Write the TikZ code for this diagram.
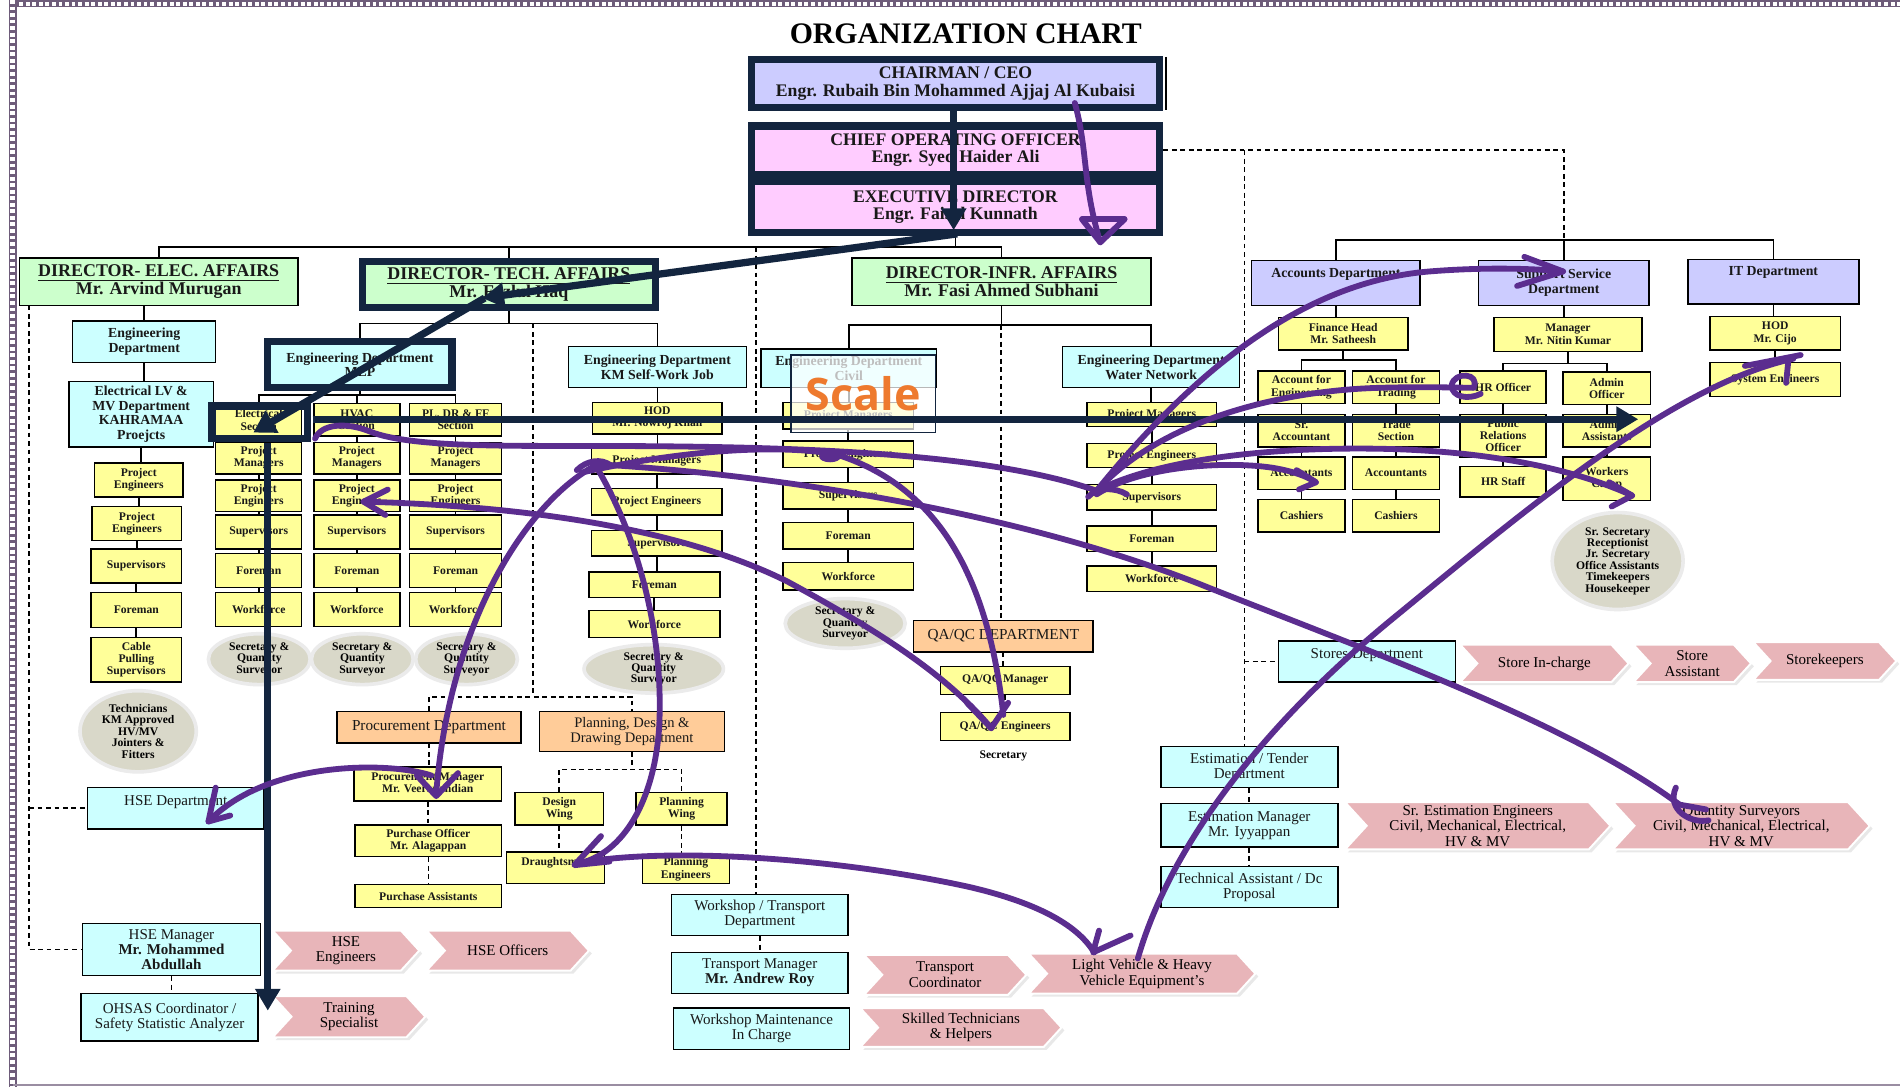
\documentclass[tikz,border=0pt]{standalone}
\usepackage{fontspec}
\setmainfont{Liberation Serif}
\newfontfamily\scalefont{Open Sans}
\usetikzlibrary{shapes.geometric,shapes.symbols,arrows.meta,shadows}
\definecolor{yel}{HTML}{FFFF99}
\definecolor{cyn}{HTML}{CCFFFF}
\definecolor{grn}{HTML}{CCFFCC}
\definecolor{lav}{HTML}{CCCCFF}
\definecolor{pnk}{HTML}{FFCCFF}
\definecolor{org}{HTML}{FFCC99}
\definecolor{elc}{HTML}{D9D8C9}
\definecolor{chv}{HTML}{E8B5B9}
\definecolor{navy}{HTML}{13253F}
\definecolor{pur}{HTML}{5B2D8F}
\definecolor{scl}{HTML}{EE7A2E}
\definecolor{brd}{HTML}{6E5C7A}
\newcommand\bx[7][]{\node[#1, minimum width={(#5-#3)*0.5pt}, minimum height={(#6-#4)*0.5pt}] (#2) at ({(#3+#5)/2},{(#4+#6)/2}) {#7};}
\newcommand\vl[2]{\draw[ln] (#1.south) -- (#1.south |- #2.north);}
\newcommand\vd[2]{\draw[dl] (#1.south) -- (#1.south |- #2.north);}
\tikzset{
 bb/.style={draw=black, line width=0.6pt, inner sep=0.3pt, align=center, text=black!90},
 yb/.style={bb, fill=yel, font=\fontsize{4.8}{5.1}\selectfont\bfseries},
 cb/.style={bb, fill=cyn, font=\fontsize{5.7}{6}\selectfont\bfseries},
 cr/.style={bb, fill=cyn, font=\fontsize{6.2}{6.2}\selectfont},
 gb/.style={bb, fill=grn, font=\fontsize{7.4}{7.3}\selectfont\bfseries},
 lb/.style={bb, fill=lav, font=\fontsize{5.7}{6}\selectfont\bfseries},
 ob/.style={bb, fill=org, font=\fontsize{6.3}{6.6}\selectfont},
 tp/.style={bb, fr, font=\fontsize{7.3}{7.2}\selectfont\bfseries},
 el/.style={ellipse, fill=elc, draw=black!8, line width=1.5pt, inner sep=0pt, align=center, font=\fontsize{4.8}{4.7}\selectfont\bfseries},
 chev/.style={signal, signal from=west, signal to=east, signal pointer angle=95, fill=chv, draw=white, line width=0.8pt, inner sep=0pt, align=center, font=\fontsize{6.2}{6.4}\selectfont, drop shadow={shadow xshift=1.2pt, shadow yshift=-1.2pt, opacity=0.18}},
 fr/.style={draw=navy, line width=3pt},
 ln/.style={line width=0.7pt},
 dl/.style={line width=0.7pt, dash pattern=on 2pt off 1.5pt},
 nav/.style={draw=navy, line width=3pt, -{Triangle[length=9pt,width=10pt]}},
 pu/.style={draw=pur, line width=2.4pt, line cap=round, line join=round},
}
\begin{document}
\begin{tikzpicture}[x=0.5pt,y=-0.5pt]
\useasboundingbox (0,0) rectangle (1568,897);
\fill[white] (0,0) rectangle (1568,897);
% border
\draw[brd, line width=2.8pt] (10.5,3) -- (1568,3);
\draw[white, line width=1.6pt, dash pattern=on 1.6pt off 1.1pt] (10.5,3) -- (1568,3);
\draw[brd, line width=3.4pt] (10.5,0) -- (10.5,897);
\draw[white, line width=2pt, dash pattern=on 1.6pt off 1.1pt] (10.5,0) -- (10.5,897);
\draw[brd!70, line width=0.8pt] (10.5,895.5) -- (1568,895.5);

\node[font=\fontsize{12.3}{14}\selectfont\bfseries] (title) at (797,28) {ORGANIZATION CHART};

% top
\bx[tp, fill=lav]{chair}{620}{49}{957}{89}{CHAIRMAN / CEO\\Engr. Rubaih Bin Mohammed Ajjaj Al Kubaisi}
\draw[line width=0.8pt] (962,47) -- (962,91);
\bx[tp, fill=pnk]{coo}{620}{104}{957}{144}{CHIEF OPERATING OFFICER\\Engr. Syed Haider Ali}
\bx[tp, fill=pnk]{ed}{620}{150}{957}{192}{EXECUTIVE DIRECTOR\\Engr. Faisal Kunnath}

% directors
\bx[gb]{dElec}{16}{213}{246}{252}{\underline{DIRECTOR- ELEC. AFFAIRS}\\Mr. Arvind Murugan}
\bx[gb, fr]{dTech}{299}{216}{541}{254}{\underline{DIRECTOR- TECH. AFFAIRS}\\Mr. Fazlul Haq}
\bx[gb]{dInf}{703}{213}{950}{252}{\underline{DIRECTOR-INFR. AFFAIRS}\\Mr. Fasi Ahmed Subhani}

% elec column
\bx[cb]{eng1}{60}{265}{178}{299}{Engineering\\Department}
\bx[cb]{elv}{57}{315}{176}{369}{Electrical LV \&\\MV Department\\KAHRAMAA\\Proejcts}
\bx[yb]{epa}{78}{382}{151}{410}{Project\\Engineers}
\bx[yb]{epb}{76}{418}{150}{446}{Project\\Engineers}
\bx[yb]{esu}{75}{453}{150}{481}{Supervisors}
\bx[yb]{efo}{75}{489}{150}{518}{Foreman}
\bx[yb]{eca}{75}{526}{150}{563}{Cable\\Pulling\\Supervisors}
\bx[el]{etec}{66}{570}{162}{637}{Technicians\\KM Approved\\HV/MV\\Jointers \&\\Fitters}

% HSE
\bx[cr, text depth=6pt]{hsed}{72}{650}{218}{684}{HSE Department}
\bx[cr]{hsem}{68}{762}{215}{805}{HSE Manager\\\textbf{Mr. Mohammed}\\\textbf{Abdullah}}
\bx[cr]{ohs}{67}{820}{213}{859}{OHSAS Coordinator /\\Safety Statistic Analyzer}
\bx[chev]{hseE}{225}{768}{346}{801}{HSE\\Engineers}
\bx[chev]{hseO}{352}{768}{486}{801}{HSE Officers}
\bx[chev]{train}{225}{822}{351}{856}{Training\\Specialist}

% MEP
\bx[cb, fr]{mep}{221}{282}{373}{320}{Engineering Department\\MEP}
\bx[yb]{xs}{178}{333}{249}{360}{Electrical\\Section}
\bx[yb]{xm}{178}{365}{249}{391}{Project\\Managers}
\bx[yb]{xe}{178}{396}{249}{422}{Project\\Engineers}
\bx[yb]{xu}{178}{425}{249}{453}{Supervisors}
\bx[yb]{xf}{178}{457}{249}{485}{Foreman}
\bx[yb]{xw}{178}{489}{249}{517}{Workforce}
\bx[el]{xq}{172}{523}{256}{565}{Secretary \&\\Quantity\\Surveyor}
\bx[yb]{ys}{259}{333}{330}{360}{HVAC\\Section}
\bx[yb]{ym}{259}{365}{330}{391}{Project\\Managers}
\bx[yb]{ye}{259}{396}{330}{422}{Project\\Engineers}
\bx[yb]{yu}{259}{425}{330}{453}{Supervisors}
\bx[yb]{yf}{259}{457}{330}{485}{Foreman}
\bx[yb]{yw}{259}{489}{330}{517}{Workforce}
\bx[el]{yq}{257}{523}{341}{565}{Secretary \&\\Quantity\\Surveyor}
\bx[yb]{zs}{338}{333}{414}{360}{PL, DR \& FF\\Section}
\bx[yb]{zm}{338}{365}{414}{391}{Project\\Managers}
\bx[yb]{ze}{338}{396}{414}{422}{Project\\Engineers}
\bx[yb]{zu}{338}{425}{414}{453}{Supervisors}
\bx[yb]{zf}{338}{457}{414}{485}{Foreman}
\bx[yb]{zw}{338}{489}{414}{517}{Workforce}
\bx[el]{zq}{343}{523}{427}{565}{Secretary \&\\Quantity\\Surveyor}

% KM
\bx[cb]{km}{469}{286}{616}{320}{Engineering Department\\KM Self-Work Job}
\bx[yb]{hod}{489}{332}{596}{358}{HOD\\Mr. Nowroj Khan}
\bx[yb]{kpm}{488}{370}{596}{391}{Project Managers}
\bx[yb]{kpe}{488}{403}{596}{425}{Project Engineers}
\bx[yb]{ksu}{488}{438}{596}{459}{Supervisors}
\bx[yb]{kfo}{486}{472}{594}{493}{Foreman}
\bx[yb]{kwf}{486}{504}{594}{526}{Workforce}
\bx[el]{kq}{482}{532}{597}{572}{Secretary \&\\Quantity\\Surveyor}

% procurement / planning
\bx[ob]{proc}{278}{587}{430}{613}{Procurement Department}
\bx[ob, font=\fontsize{6}{6.4}\selectfont]{plan}{445}{587}{598}{620}{Planning, Design \&\\Drawing Department}
\bx[yb]{pmg}{292}{633}{414}{661}{Procurement Manager\\Mr. Veerapandian}
\bx[yb]{pof}{293}{681}{414}{707}{Purchase Officer\\Mr. Alagappan}
\bx[yb]{pas}{293}{730}{414}{749}{Purchase Assistants}
\bx[yb]{dwg}{425}{654}{498}{681}{Design\\Wing}
\bx[yb]{pwg}{525}{654}{600}{681}{Planning\\Wing}
\bx[yb, text depth=5pt]{drf}{418}{703}{499}{729}{Draughtsman}
\bx[yb]{pen}{530}{706}{602}{729}{Planning\\Engineers}

% workshop
\bx[cr]{ws}{554}{738}{700}{772}{Workshop / Transport\\Department}
\bx[cr]{tm}{554}{786}{700}{820}{Transport Manager\\\textbf{Mr. Andrew Roy}}
\bx[cr]{wm}{556}{832}{701}{866}{Workshop Maintenance\\In Charge}
\bx[chev]{tco}{713}{788}{847}{821}{Transport\\Coordinator}
\bx[chev]{lvh}{849}{787}{1036}{820}{Light Vehicle \& Heavy\\Vehicle Equipment’s}
\bx[chev]{skt}{710}{832}{876}{864}{Skilled Technicians\\\& Helpers}

% infra civil
\bx[cb]{civil}{628}{288}{773}{320}{Engineering Department\\Civil}
\bx[yb]{cpm}{646}{332}{754}{354}{Project Managers}
\bx[yb]{cpe}{646}{364}{754}{386}{Project Engineers}
\bx[yb]{csu}{646}{398}{754}{420}{Supervisors}
\bx[yb]{cfo}{646}{431}{754}{453}{Foreman}
\bx[yb]{cwf}{646}{464}{754}{487}{Workforce}
\bx[el]{cq}{648}{494}{747}{535}{Secretary \&\\Quantity\\Surveyor}
\bx[ob]{qa}{754}{512}{902}{538}{QA/QC DEPARTMENT}
\bx[yb]{qam}{776}{550}{883}{573}{QA/QC Manager}
\bx[yb]{qae}{776}{588}{883}{611}{QA/QC Engineers}
\node[font=\fontsize{4.8}{5}\selectfont\bfseries] (secr) at (828,624) {Secretary};
% water
\bx[cb]{water}{877}{286}{1023}{320}{Engineering Department\\Water Network}
\bx[yb]{wpm}{897}{332}{1004}{352}{Project Managers}
\bx[yb]{wpe}{897}{366}{1004}{386}{Project Engineers}
\bx[yb]{wsu}{897}{400}{1004}{421}{Supervisors}
\bx[yb]{wfo}{897}{434}{1004}{455}{Foreman}
\bx[yb]{wwf}{897}{467}{1004}{488}{Workforce}

% right
\bx[lb, text depth=8.5pt]{acc}{1033}{215}{1172}{252}{Accounts Department}
\bx[lb]{svc}{1220}{215}{1361}{252}{Support Service\\Department}
\bx[lb, text depth=8.5pt]{itd}{1393}{214}{1534}{251}{IT Department}
\bx[yb]{fh}{1055}{262}{1162}{289}{Finance Head\\Mr. Satheesh}
\bx[yb]{ae}{1038}{306}{1110}{333}{Account for\\Engineering}
\bx[yb]{at}{1116}{306}{1188}{333}{Account for\\Trading}
\bx[yb]{sra}{1038}{342}{1110}{369}{Sr.\\Accountant}
\bx[yb]{tsn}{1116}{342}{1188}{369}{Trade\\Section}
\bx[yb]{acl}{1038}{377}{1110}{404}{Accountants}
\bx[yb]{acr}{1116}{377}{1188}{404}{Accountants}
\bx[yb]{cal}{1038}{412}{1110}{439}{Cashiers}
\bx[yb]{car}{1116}{412}{1188}{439}{Cashiers}
\bx[yb]{mgr}{1233}{262}{1355}{290}{Manager\\Mr. Nitin Kumar}
\bx[yb]{hro}{1205}{306}{1276}{333}{HR Officer}
\bx[yb]{ado}{1290}{307}{1362}{334}{Admin\\Officer}
\bx[yb]{pro}{1205}{342}{1276}{377}{Public\\Relations\\Officer}
\bx[yb]{ada}{1290}{342}{1362}{369}{Admin\\Assistants}
\bx[yb]{hrs}{1205}{385}{1276}{410}{HR Staff}
\bx[yb]{wcp}{1290}{377}{1362}{413}{Workers\\Camp}
\bx[el]{sel}{1281}{423}{1389}{503}{Sr. Secretary\\Receptionist\\Jr. Secretary\\Office Assistants\\Timekeepers\\Housekeeper}
\bx[yb]{hod2}{1411}{261}{1519}{289}{HOD\\Mr. Cijo}
\bx[yb]{sys}{1411}{299}{1519}{327}{System Engineers}

\bx[cr, text depth=7pt]{stores}{1055}{529}{1201}{563}{Stores Department}
\bx[chev]{sic}{1205}{532}{1344}{563}{Store In-charge}
\bx[chev]{sas}{1348}{532}{1445}{563}{Store\\Assistant}
\bx[chev]{skp}{1447}{530}{1565}{561}{Storekeepers}
\bx[cr]{est}{958}{616}{1104}{650}{Estimation / Tender\\Department}
\bx[cr]{estm}{958}{663}{1104}{699}{Estimation Manager\\Mr. Iyyappan}
\bx[cr]{tas}{958}{715}{1104}{749}{Technical Assistant / Dc\\Proposal}
\bx[chev]{see}{1110}{662}{1329}{701}{Sr. Estimation Engineers\\Civil, Mechanical, Electrical,\\HV \& MV}
\bx[chev]{qsv}{1331}{662}{1543}{701}{Quantity Surveyors\\Civil, Mechanical, Electrical,\\HV \& MV}

% ---------- connectors
\coordinate (hTop) at (0,204);
\draw[ln] (ed.south) -- (ed.south |- hTop);
\draw[ln] (dElec.north) |- (dInf.north |- hTop) -- (dInf.north);
\draw[ln] (dTech.north) -- (dTech.north |- hTop);
% elec
\draw[ln] (eng1.north) -- (eng1.north |- dElec.south);
\vl{eng1}{elv} \vl{elv}{epa} \vl{epa}{epb} \vl{epb}{esu} \vl{esu}{efo} \vl{efo}{eca}
\coordinate (dl1) at (24,252);
\draw[dl] (dl1) |- (hsem.west);
\draw[dl] (dl1 |- hsed.west) -- (hsed.west);
\vd{hsem}{ohs}
% tech
\coordinate (hT) at (0,267);
\draw[ln] (dTech.south) -- (dTech.south |- hT);
\draw[ln] (mep.north) |- (km.north |- hT) -- (km.north);
\coordinate (hM) at (0,326);
\draw[ln] (mep.south) -- (mep.south |- hM);
\draw[ln] (xs.north) |- (zs.north |- hM) -- (zs.north);
\draw[ln] (ys.north) -- (ys.north |- hM);
\vl{xs}{xm} \vl{xm}{xe} \vl{xe}{xu} \vl{xu}{xf} \vl{xf}{xw}
\vl{ys}{ym} \vl{ym}{ye} \vl{ye}{yu} \vl{yu}{yf} \vl{yf}{yw}
\vl{zs}{zm} \vl{zm}{ze} \vl{ze}{zu} \vl{zu}{zf} \vl{zf}{zw}
\vl{km}{hod} \vl{hod}{kpm} \vl{kpm}{kpe} \vl{kpe}{ksu} \vl{ksu}{kfo} \vl{kfo}{kwf}
\coordinate (pdT) at (440,267);
\coordinate (pdB) at (440,575);
\draw[dl] (pdT) -- (pdB);
\draw[dl] (proc.north) |- (plan.north |- pdB) -- (plan.north);
\vd{proc}{pmg} \vd{pmg}{pof} \vd{pof}{pas}
\coordinate (hP) at (0,635);
\draw[dl] (plan.south) -- (plan.south |- hP);
\draw[dl] (dwg.north) |- (pwg.north |- hP) -- (pwg.north);
\vd{dwg}{drf} \vd{pwg}{pen}
% center
\coordinate (cT) at (624,204);
\draw[dl] (cT) -- (cT |- ws.north);
\vd{ws}{tm}
% infra
\coordinate (hI) at (0,268);
\draw[ln] (dInf.south) -- (dInf.south |- hI);
\draw[ln] (civil.north) |- (water.north |- hI) -- (water.north);
\vl{civil}{cpm} \vl{cpm}{cpe} \vl{cpe}{csu} \vl{csu}{cfo} \vl{cfo}{cwf}
\vl{water}{wpm} \vl{wpm}{wpe} \vl{wpe}{wsu} \vl{wsu}{wfo} \vl{wfo}{wwf}
\coordinate (iD) at (826,268);
\draw[dl] (iD) -- (iD |- qa.north);
\vd{qa}{qam} \vd{qam}{qae}
% right
\coordinate (hR) at (0,198);
\draw[dl] (coo.east) -| (svc.north |- hR);
\draw[ln] (acc.north) |- (itd.north |- hR) -- (itd.north);
\draw[ln] (svc.north) -- (svc.north |- hR);
\coordinate (rd) at (1027,124);
\draw[dl] (rd) -- (rd |- est.north);
\draw[dl] (rd |- stores.west) -- (stores.west);
\vl{acc}{fh}
\coordinate (hA) at (0,297);
\draw[ln] (fh.south) -- (fh.south |- hA);
\draw[ln] (ae.north) |- (at.north |- hA) -- (at.north);
\vl{ae}{sra} \vl{sra}{acl} \vl{acl}{cal} \vl{at}{tsn} \vl{tsn}{acr} \vl{acr}{car}
\vl{svc}{mgr}
\coordinate (hS) at (0,300);
\draw[ln] (mgr.south) -- (mgr.south |- hS);
\draw[ln] (hro.north) |- (ado.north |- hS) -- (ado.north);
\vl{hro}{pro} \vl{pro}{hrs} \vl{ado}{ada} \vl{ada}{wcp}
\vl{itd}{hod2} \vl{hod2}{sys}
\vd{est}{estm} \vd{estm}{tas}

% section frame
\draw[fr] (175,335) rectangle (254,362);

% scale box
\node[draw=navy, line width=0.7pt, fill=white, fill opacity=0.72, text opacity=1, text=scl,
  minimum width=59.5pt, minimum height=32pt, font=\scalefont\bfseries\fontsize{18.5}{20}\selectfont] (scale) at (712.5,325) {Scale};

% navy arrows
\draw[nav] (787,86) -- (787,190);
\draw[nav] (790,193) -- (398,246);
\draw[nav] (400,246) -- (209,357);
\draw[nav] (221,366) -- (221,834);
\draw[nav] (258,346) -- (1352,346);

% purple strokes
\draw[pu] (887,85) .. controls (898,125) and (893,150) .. (908,200);
\draw[pu] (893,181) -- (928,181);
\draw[pu] (893,181) -- (908,200) -- (928,181);
\draw[pu] (260,362) .. controls (265,350) and (285,348) .. (305,356) .. controls (330,366) and (380,368) .. (450,368) .. controls (600,368) and (800,368) .. (905,405);
\draw[pu] (480,390) .. controls (560,372) and (640,366) .. (690,375);
\draw[pu] (690,375) .. controls (770,400) and (815,470) .. (828,590);
\fill[pur] (685,377) ellipse [x radius=9, y radius=4.5];
\draw[pu] (300,414) .. controls (450,418) and (570,440) .. (650,480) .. controls (720,518) and (780,555) .. (818,601);
\draw[pu] (320,404) -- (300,414) -- (318,425);
\draw[pu] (798,580) -- (818,601) -- (832,580);
\draw[pu] (488,386) .. controls (430,420) and (370,520) .. (360,655);
\draw[pu] (344,640) -- (360,657) -- (378,638);
\draw[pu] (356,640) .. controls (320,628) and (220,628) .. (172,678);
\draw[pu] (178,650) -- (172,678) -- (190,673);
\draw[pu] (492,385) .. controls (525,440) and (548,520) .. (544,600) .. controls (540,660) and (515,705) .. (476,713);
\draw[pu] (496,690) -- (474,714) -- (503,711);
\draw[pu] (478,712) .. controls (560,698) and (700,710) .. (800,732) .. controls (860,746) and (890,765) .. (903,786);
\draw[pu] (907,768) -- (902,786) -- (933,772);
\draw[pu] (476,388) .. controls (484,380) and (496,378) .. (504,384);
\draw[pu] (490,383) .. controls (650,392) and (850,425) .. (1000,486) .. controls (1150,545) and (1300,600) .. (1386,664);
\draw[pu] (1383,650) .. controls (1375,668) and (1395,680) .. (1410,677);
\draw[pu] (1386,664) -- (1408,668);
\draw[pu] (898,410) .. controls (905,402) and (920,402) .. (930,408);
\draw[pu] (905,405) .. controls (990,300) and (1080,232) .. (1180,224) .. controls (1230,220) and (1270,222) .. (1290,224);
\draw[pu] (1258,212) -- (1290,224) -- (1252,236);
\draw[pu] (905,405) .. controls (960,345) and (1060,322) .. (1140,320) .. controls (1180,319) and (1200,320) .. (1216,320);
\draw[pu] (1216,320) .. controls (1222,308) and (1200,306) .. (1198,318) .. controls (1198,328) and (1212,330) .. (1222,325);
\draw[pu] (905,408) .. controls (940,385) and (1010,380) .. (1050,386) .. controls (1068,389) and (1078,393) .. (1086,398);
\draw[pu] (1070,388) -- (1086,398) -- (1072,404);
\draw[pu] (905,405) .. controls (970,372) and (1090,368) .. (1160,371) .. controls (1250,375) and (1310,392) .. (1347,409);
\draw[pu] (1328,398) -- (1347,409) -- (1330,418);
\draw[pu] (939,791) .. controls (965,700) and (1040,600) .. (1150,510) .. controls (1260,420) and (1380,318) .. (1480,296);
\draw[pu] (1440,302) -- (1486,293);
\draw[pu] (1476,296) -- (1474,316);
\end{tikzpicture}
\end{document}
